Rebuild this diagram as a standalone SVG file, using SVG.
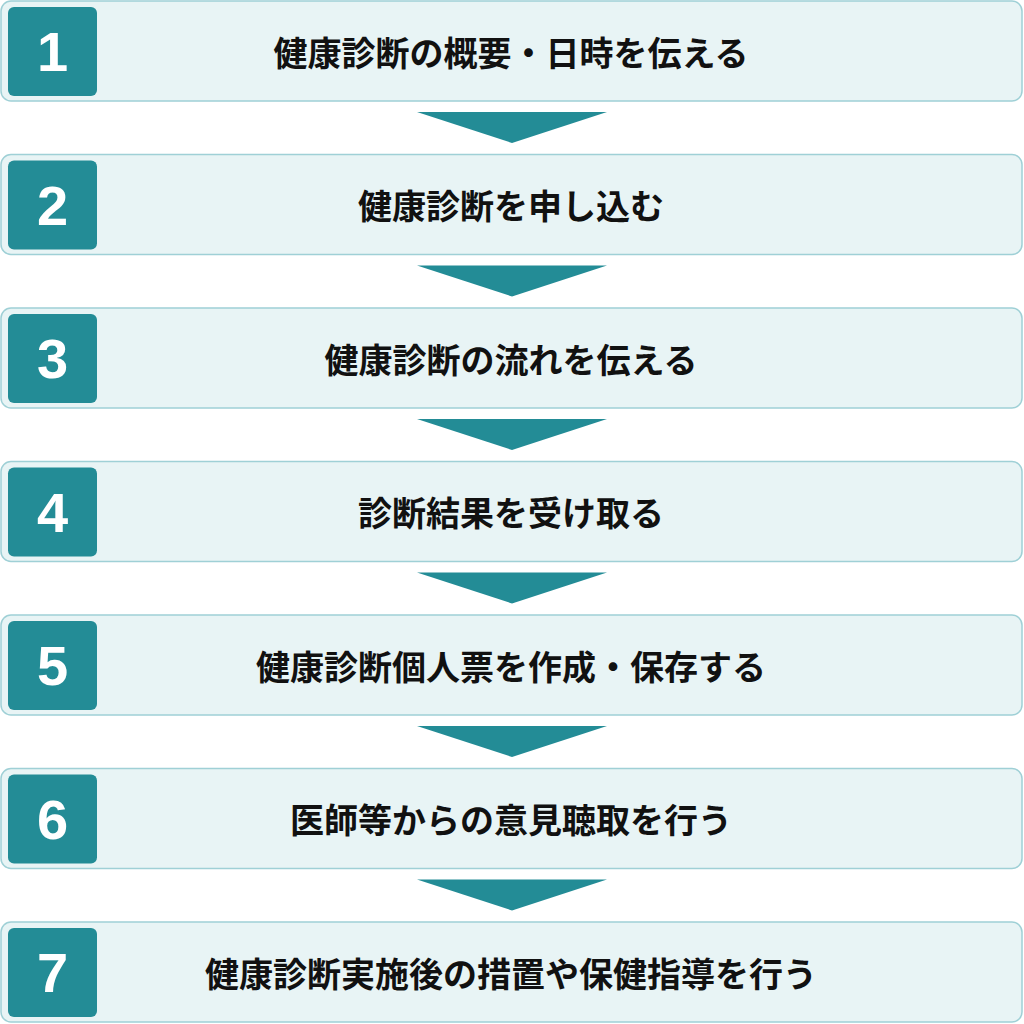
<svg xmlns="http://www.w3.org/2000/svg" width="1024" height="1024" viewBox="0 0 1024 1024">
<defs>
<style>
.box{fill:#e8f4f5;stroke:#9fd0d6;stroke-width:1.5}
.badge{fill:#238c96}
.num{fill:#ffffff;font-family:"Liberation Sans",Arial,sans-serif;font-weight:bold;font-size:56px;text-anchor:middle}
.lbl{fill:#111111;font-family:"Noto Sans CJK JP","Noto Sans CJK SC",sans-serif;font-weight:bold;font-size:34px;text-anchor:middle;dominant-baseline:central}
.arr{fill:#238c96}
</style>
</defs>
<rect width="1024" height="1024" fill="#ffffff"/>
<g id="connectors">
<polygon class="arr" points="417,112 607,112 512,143"/>
<polygon class="arr" points="417,265.5 607,265.5 512,296.5"/>
<polygon class="arr" points="417,419 607,419 512,450"/>
<polygon class="arr" points="417,572.5 607,572.5 512,603.5"/>
<polygon class="arr" points="417,726 607,726 512,757"/>
<polygon class="arr" points="417,879.5 607,879.5 512,910.5"/>
</g>
<g id="step1">
<rect class="box" x="1" y="1" width="1021" height="100" rx="10"/>
<rect class="badge" x="8" y="7" width="89" height="89" rx="6"/>
<text class="num" x="52.5" y="71">1</text>
<text class="lbl" x="511" y="51">健康診断の概要・日時を伝える</text>
</g>
<g id="step2">
<rect class="box" x="1" y="154.5" width="1021" height="100" rx="10"/>
<rect class="badge" x="8" y="160.5" width="89" height="89" rx="6"/>
<text class="num" x="52.5" y="224.5">2</text>
<text class="lbl" x="511" y="204.5">健康診断を申し込む</text>
</g>
<g id="step3">
<rect class="box" x="1" y="308" width="1021" height="100" rx="10"/>
<rect class="badge" x="8" y="314" width="89" height="89" rx="6"/>
<text class="num" x="52.5" y="378">3</text>
<text class="lbl" x="511" y="358">健康診断の流れを伝える</text>
</g>
<g id="step4">
<rect class="box" x="1" y="461.5" width="1021" height="100" rx="10"/>
<rect class="badge" x="8" y="467.5" width="89" height="89" rx="6"/>
<text class="num" x="52.5" y="531.5">4</text>
<text class="lbl" x="511" y="511.5">診断結果を受け取る</text>
</g>
<g id="step5">
<rect class="box" x="1" y="615" width="1021" height="100" rx="10"/>
<rect class="badge" x="8" y="621" width="89" height="89" rx="6"/>
<text class="num" x="52.5" y="685">5</text>
<text class="lbl" x="511" y="665">健康診断個人票を作成・保存する</text>
</g>
<g id="step6">
<rect class="box" x="1" y="768.5" width="1021" height="100" rx="10"/>
<rect class="badge" x="8" y="774.5" width="89" height="89" rx="6"/>
<text class="num" x="52.5" y="838.5">6</text>
<text class="lbl" x="511" y="818.5">医師等からの意見聴取を行う</text>
</g>
<g id="step7">
<rect class="box" x="1" y="922" width="1021" height="100" rx="10"/>
<rect class="badge" x="8" y="928" width="89" height="89" rx="6"/>
<text class="num" x="52.5" y="992">7</text>
<text class="lbl" x="511" y="972">健康診断実施後の措置や保健指導を行う</text>
</g>
</svg>
